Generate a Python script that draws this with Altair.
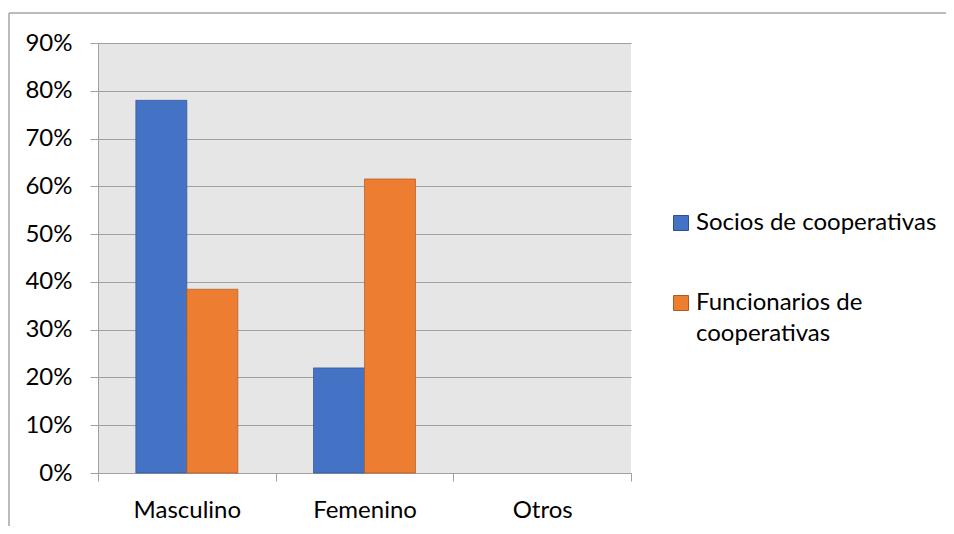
import altair as alt
import pandas as pd

categories = ["Masculino", "Femenino", "Otros"]
series = ["Socios de cooperativas", "Funcionarios de cooperativas"]
socios = [0.78, 0.22, 0.0]
funcionarios = [0.3846, 0.6154, 0.0]
colors = ["#4472C4", "#ED7D31"]
strokes = ["#2F528F", "#AE5A21"]

rows = []
for c, v in zip(categories, socios):
    rows.append({"categoria": c, "serie": series[0], "valor": v})
for c, v in zip(categories, funcionarios):
    rows.append({"categoria": c, "serie": series[1], "valor": v})
df = pd.DataFrame(rows)

FONT = "Lato"
FS = 24
GRID = "#A0A0A0"

bars = alt.Chart(df).transform_filter("datum.valor > 0").mark_bar(
    strokeWidth=1, strokeOpacity=0.7
).encode(
    x=alt.X("categoria:N", sort=categories, title=None,
            scale=alt.Scale(domain=categories, paddingInner=0, paddingOuter=0),
            axis=alt.Axis(labelAngle=0, tickBand="extent", tickSize=8,
                          labelPadding=17, domainColor=GRID, tickColor=GRID,
                          grid=False)),
    xOffset=alt.XOffset("serie:N", sort=series,
                        scale=alt.Scale(domain=series, paddingInner=0, paddingOuter=0.742)),
    y=alt.Y("valor:Q", title=None,
            scale=alt.Scale(domain=[0, 0.9], nice=False),
            axis=alt.Axis(format=".0%", values=[i / 10 for i in range(10)],
                          tickSize=8, labelPadding=18, domainColor=GRID,
                          tickColor=GRID, gridColor=GRID, grid=True)),
    color=alt.Color("serie:N", sort=series,
                    scale=alt.Scale(domain=series, range=colors),
                    legend=alt.Legend(title=None, orient="none", legendX=571, legendY=168,
                                      symbolType="square", symbolSize=225,
                                      symbolStrokeWidth=1,
                                      labelFontSize=FS, labelFont=FONT, labelColor="#000000",
                                      labelLimit=400, labelOffset=3, rowPadding=56,
                                      padding=0,
                                      labelExpr="datum.label == 'Funcionarios de cooperativas' ? ['Funcionarios de', 'cooperativas'] : datum.label")),
    stroke=alt.Stroke("serie:N", sort=series,
                      scale=alt.Scale(domain=series, range=strokes), legend=None),
)

border_top = alt.Chart(alt.Data(values=[{"k": 1}])).mark_rule(
    color="#A6A6A6", strokeWidth=1.5
).encode(x=alt.value(-89), x2=alt.value(860), y=alt.value(-30))

border_left = alt.Chart(alt.Data(values=[{"k": 1}])).mark_rule(
    color="#A6A6A6", strokeWidth=1.5
).encode(x=alt.value(-89), y=alt.value(-30), y2=alt.value(500))

chart = alt.layer(bars, border_top, border_left).properties(
    width=533, height=430,
    autosize=alt.AutoSizeParams(type="none"),
    padding={"left": 90, "top": 35, "right": 315, "bottom": 53},
    background="white",
).configure(
    style={"guide-label": {"lineHeight": 31}}
).configure_view(
    fill="#E7E6E6", stroke=None
).configure_axis(
    labelFont=FONT, labelFontSize=FS, labelColor="#000000"
)

chart.save("out.html", embed_options={"renderer": "svg", "actions": False})
